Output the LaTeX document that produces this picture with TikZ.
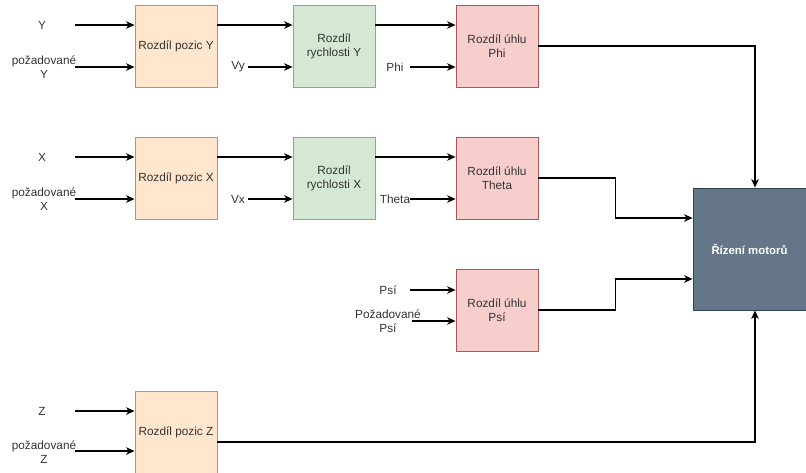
\documentclass[tikz,border=0pt]{standalone}
\usepackage{fontspec}
\setmainfont{Liberation Sans}
\usetikzlibrary{positioning, arrows.meta}
\definecolor{textgray}{HTML}{333333}
\definecolor{orangefill}{HTML}{FFE6CC}
\definecolor{orangeline}{HTML}{D79B00}
\definecolor{greenfill}{HTML}{D5E8D4}
\definecolor{greenline}{HTML}{82B366}
\definecolor{redfill}{HTML}{F8CECC}
\definecolor{redline}{HTML}{B85450}
\definecolor{motorfill}{HTML}{647687}
\definecolor{motorline}{HTML}{314354}
\tikzset{
>={Stealth[length=8.5pt,width=7.5pt,inset=2.5pt]}, % arrow heads like the drawing
node distance=158pt, % distance between the centres of two boxes
every node/.style={font=\fontsize{11.8}{14}\selectfont, text=textgray}, % text of all nodes
blok/.style={draw, line width=0.8pt, minimum width=82pt, minimum height=82pt, align=center},
pozice/.style={blok, fill=orangefill, draw=orangeline}, % position boxes
rychlost/.style={blok, fill=greenfill, draw=greenline}, % velocity boxes
uhel/.style={blok, fill=redfill, draw=redline}, % angle boxes
motor/.style={draw=motorline, fill=motorfill, line width=0.8pt, minimum width=113pt, minimum height=122pt, text=white, font=\fontsize{11.4}{14}\selectfont\bfseries},
popis/.style={align=center, inner sep=1pt, font=\fontsize{11.8}{13.5}\selectfont}, % input labels
spoj/.style={->, line width=1.1pt, black}, % connectors
}
\begin{document}
\begin{tikzpicture}[x=1pt,y=-1pt]
\useasboundingbox (0,0) rectangle (806,472);
% boxes
\node[pozice] (pY) at (176,46) {Rozdíl pozic Y};
\node[rychlost, right of=pY] (rY) {Rozdíl\\rychlosti Y};
\node[uhel, right of=rY, node distance=163pt] (uPhi) {Rozdíl úhlu\\Phi};
\node[pozice, below of=pY, node distance=132pt] (pX) {Rozdíl pozic X};
\node[rychlost, right of=pX] (rX) {Rozdíl\\rychlosti X};
\node[uhel, right of=rX, node distance=163pt] (uTheta) {Rozdíl úhlu\\Theta};
\node[uhel, below of=uTheta, node distance=132pt] (uPsi) {Rozdíl úhlu\\Psí};
\node[pozice, below of=pX, node distance=254pt] (pZ) {Rozdíl pozic Z};
\node[motor] (mot) at (749.5,249) {Řízení motorů};
% labels
\node[popis] (lY) at (42,25) {Y};
\node[popis] (lYp) at (44,67) {požadované\\Y};
\node[popis] (lVy) at (238,67) {Vy};
\node[popis] (lPhi) at (395,67) {Phi};
\node[popis] (lX) at (42,157) {X};
\node[popis] (lXp) at (44,199) {požadované\\X};
\node[popis] (lVx) at (238,199) {Vx};
\node[popis] (lTheta) at (395,199) {Theta};
\node[popis] (lPsi) at (388,290) {Psí};
\node[popis] (lPsip) at (388,321) {Požadované\\Psí};
\node[popis] (lZ) at (42,411) {Z};
\node[popis] (lZp) at (44,452) {požadované\\Z};
% free ends of the inputs
\coordinate (iY) at (75,25);
\coordinate (iYp) at (75,67);
\coordinate (iVy) at (248,67);
\coordinate (iPhi) at (410,67);
\coordinate (iX) at (75,157);
\coordinate (iXp) at (75,199);
\coordinate (iVx) at (248,199);
\coordinate (iTheta) at (410,199);
\coordinate (iPsi) at (410,290);
\coordinate (iPsip) at (412,321);
\coordinate (iZ) at (75,411);
\coordinate (iZp) at (75,451);
% inputs
\draw[spoj] (iY) -- (iY -| pY.west);
\draw[spoj] (iYp) -- (iYp -| pY.west);
\draw[spoj] (iVy) -- (iVy -| rY.west);
\draw[spoj] (iPhi) -- (iPhi -| uPhi.west);
\draw[spoj] (iX) -- (iX -| pX.west);
\draw[spoj] (iXp) -- (iXp -| pX.west);
\draw[spoj] (iVx) -- (iVx -| rX.west);
\draw[spoj] (iTheta) -- (iTheta -| uTheta.west);
\draw[spoj] (iPsi) -- (iPsi -| uPsi.west);
\draw[spoj] (iPsip) -- (iPsip -| uPsi.west);
\draw[spoj] (iZ) -- (iZ -| pZ.west);
\draw[spoj] (iZp) -- (iZp -| pZ.west);
% box to box
\draw[spoj] ([yshift=21pt]pY.east) -- ([yshift=21pt]rY.west);
\draw[spoj] ([yshift=21pt]rY.east) -- ([yshift=21pt]uPhi.west);
\draw[spoj] ([yshift=21pt]pX.east) -- ([yshift=21pt]rX.west);
\draw[spoj] ([yshift=21pt]rX.east) -- ([yshift=21pt]uTheta.west);
% to the motors
\draw[spoj] (uPhi.east) -| ([xshift=5.5pt]mot.north);
\draw[spoj] (uTheta.east) -- ++(77,0) |- ([yshift=31pt]mot.west);
\draw[spoj] (uPsi.east) -- ++(77,0) |- ([yshift=-30pt]mot.west);
\draw[spoj] ([yshift=-10pt]pZ.east) -| ([xshift=5.5pt]mot.south);
\end{tikzpicture}
\end{document}
